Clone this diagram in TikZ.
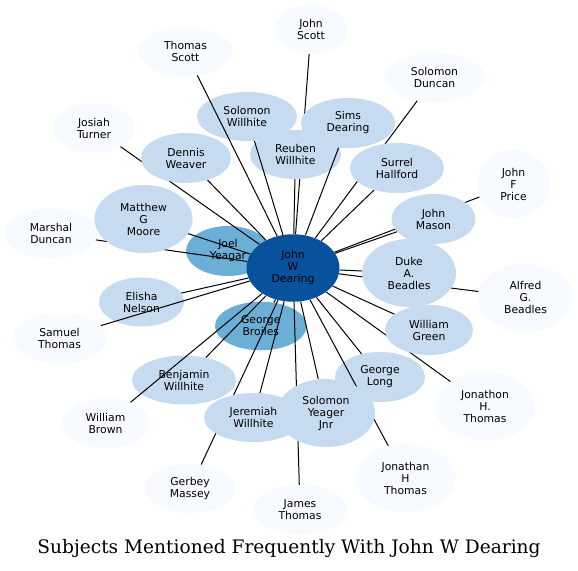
\documentclass[tikz,border=0pt]{standalone}
\usepackage{fontspec}
\setmainfont{DejaVu Sans}
\newfontfamily\titlefont{DejaVu Serif}
\usetikzlibrary{shapes.geometric}
\pgfdeclarelayer{bg}\pgfdeclarelayer{edges}\pgfdeclarelayer{top}
\pgfsetlayers{bg,edges,main,top}
\definecolor{cA}{HTML}{F7FBFF}
\definecolor{cB}{HTML}{C6DBEF}
\definecolor{cC}{HTML}{6BAED6}
\definecolor{cD}{HTML}{08519C}
\tikzset{
 person/.style={ellipse, inner sep=0pt, align=center, font=\fontsize{10.8}{12}\selectfont, text=black},
 outer/.style={person, fill=cA},
 mid/.style={person, fill=cB},
 dark/.style={person, fill=cC},
 hub/.style={person, fill=cD},
 link/.style={draw=black, line width=1pt},
 sz/.style n args={2}{minimum width=#1pt, minimum height=#2pt},
}
\begin{document}
\begin{tikzpicture}[x=1pt,y=-1pt]
\useasboundingbox (0,0) rectangle (578,570);
\begin{pgfonlayer}{bg}
\fill[white] (0,0) rectangle (578,570);
\node[dark,sz={84}{50}] (joel) at (228,251) {Joel\\Yeagar};
\node[dark,sz={91.6}{48.5}] (broiles) at (260.8,326) {George\\Broiles};
\node[mid,sz={85}{49}] (elisha) at (141.5,302) {Elisha\\Nelson};
\node[mid,sz={104}{49}] (benjamin) at (184,380) {Benjamin\\Willhite};
\node[mid,sz={90}{50}] (glong) at (380,377) {George\\Long};
\node[mid,sz={100}{49}] (swillhite) at (247,116.5) {Solomon\\Willhite};
\end{pgfonlayer}
\node[hub,sz={93}{67.5}] (hub) at (293,268) {John\\W\\Dearing};
\node[mid,sz={98}{68}] (matthew) at (143.5,219) {Matthew\\G\\Moore};
\node[mid,sz={90}{50}] (dennis) at (186,158) {Dennis\\Weaver};
\node[mid,sz={91}{49}] (reuben) at (295.5,154.5) {Reuben\\Willhite};
\node[mid,sz={94}{50}] (sims) at (348,123) {Sims\\Dearing};
\node[mid,sz={94}{50}] (surrel) at (397,168) {Surrel\\Hallford};
\node[mid,sz={84}{50}] (jmason) at (433.5,219) {John\\Mason};
\node[mid,sz={94}{68}] (duke) at (409,273) {Duke\\A.\\Beadles};
\node[mid,sz={88}{50}] (wgreen) at (429,330) {William\\Green};
\node[mid,sz={99}{49}] (jeremiah) at (253.5,417.5) {Jeremiah\\Willhite};
\node[mid,sz={98}{68}] (syeager) at (326,413) {Solomon\\Yeager\\Jnr};
\node[outer,sz={94}{49}] (tscott) at (185.5,51.5) {Thomas\\Scott};
\node[outer,sz={72}{49}] (jscott) at (311,29.5) {John\\Scott};
\node[outer,sz={100}{49}] (sduncan) at (434.5,77.5) {Solomon\\Duncan};
\node[outer,sz={80}{49}] (josiah) at (94,128) {Josiah\\Turner};
\node[outer,sz={73}{68}] (jfprice) at (513.5,184) {John\\F\\Price};
\node[outer,sz={92}{50}] (marshal) at (51,233.5) {Marshal\\Duncan};
\node[outer,sz={95}{68}] (alfred) at (525.5,297.5) {Alfred\\G.\\Beadles};
\node[outer,sz={94}{50}] (samuel) at (59.5,338) {Samuel\\Thomas};
\node[outer,sz={87}{50}] (wbrown) at (105.5,423) {William\\Brown};
\node[outer,sz={100}{68}] (jonathonh) at (485,406.5) {Jonathon\\H.\\Thomas};
\node[outer,sz={90}{49}] (gerbey) at (190,488.5) {Gerbey\\Massey};
\node[outer,sz={94}{49}] (james) at (300,509.5) {James\\Thomas};
\node[outer,sz={100}{68}] (jonathanh) at (405.5,478) {Jonathan\\H\\Thomas};
\node[anchor=base,inner sep=0pt] (title) at (289,553.5) {\titlefont\fontsize{18.6}{22}\selectfont Subjects Mentioned Frequently With John W Dearing};
\begin{pgfonlayer}{edges}
\foreach \n in {joel,broiles,elisha,benjamin,glong,matthew,dennis,reuben,surrel,jmason,duke,wgreen,jeremiah,syeager,tscott,jscott,sduncan,josiah,jfprice,marshal,alfred,samuel,wbrown,jonathonh,gerbey,james,jonathanh}
  \draw[link] (hub) -- (\n);
\end{pgfonlayer}
\begin{pgfonlayer}{top}
\draw[link] (hub) -- (swillhite);
\draw[link] (hub) -- (sims);
\end{pgfonlayer}
\end{tikzpicture}
\end{document}
